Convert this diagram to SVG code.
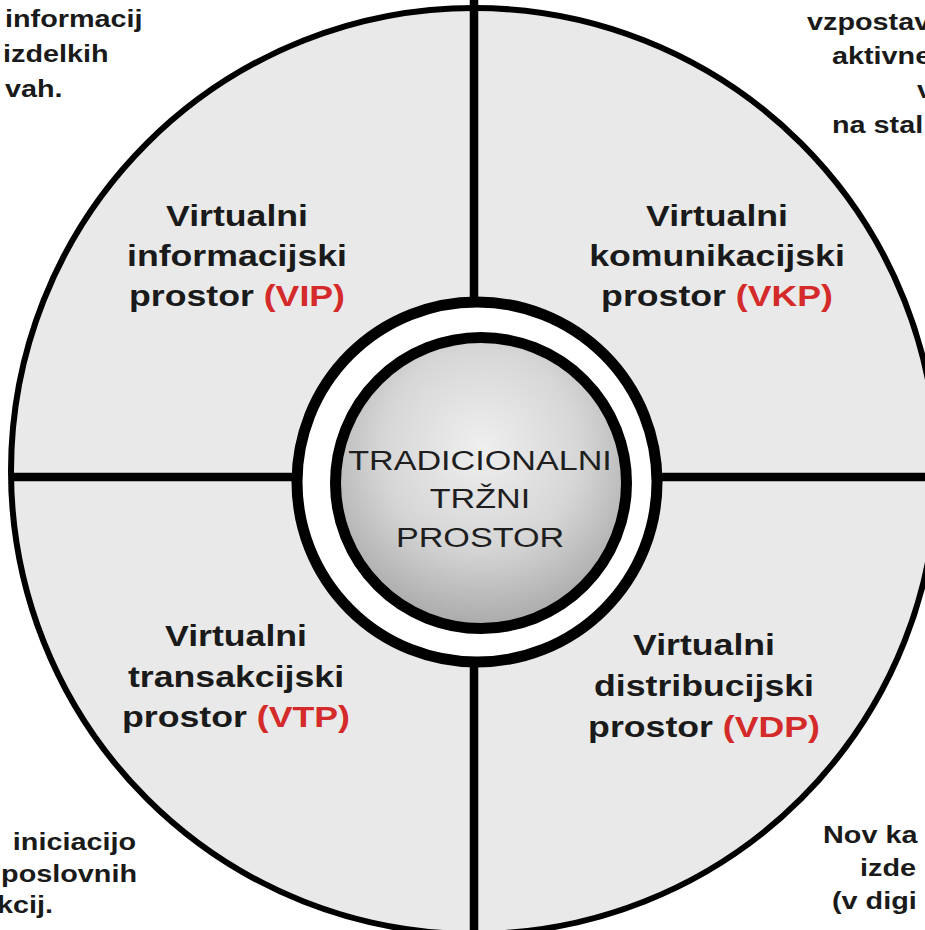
<svg xmlns="http://www.w3.org/2000/svg" width="925" height="930" viewBox="0 0 925 930">
<style>
.lbl{font-family:"Liberation Sans",Arial,sans-serif;font-weight:bold;font-size:29px;fill:#1a1a1a;text-anchor:middle}
.red{fill:#d42a2a}
.ctr{font-family:"Liberation Sans",Arial,sans-serif;font-size:28px;fill:#1e1e1e;text-anchor:middle}
.side{font-family:"Liberation Sans",Arial,sans-serif;font-weight:bold;font-size:24px;fill:#1a1a1a}
.ln{stroke:#000;stroke-width:8.5;fill:none}
</style>
<defs>
<radialGradient id="g" cx="50%" cy="38%" r="62%">
<stop offset="0" stop-color="#efefef"/>
<stop offset="0.55" stop-color="#d6d6d6"/>
<stop offset="1" stop-color="#a9a9a9"/>
</radialGradient>
</defs>
<rect width="925" height="930" fill="#fff"/>
<g id="outer">
<circle cx="474" cy="471" r="463" fill="#e9e9e9" stroke="#000" stroke-width="6"/>
</g>
<g id="connectors">
<line class="ln" x1="474" y1="0" x2="474" y2="300"/>
<line class="ln" x1="474" y1="664" x2="474" y2="930"/>
<line class="ln" x1="11" y1="477" x2="295" y2="477"/>
<line class="ln" x1="658" y1="477" x2="925" y2="477"/>
</g>
<g id="ring">
<circle cx="477" cy="482" r="180" fill="#fff" stroke="#000" stroke-width="11"/>
</g>
<g id="center">
<circle cx="481" cy="483" r="145.5" fill="url(#g)" stroke="#000" stroke-width="11"/>
<text class="ctr" transform="translate(480,470) scale(1.22,1)">TRADICIONALNI</text>
<text class="ctr" transform="translate(480,508) scale(1.22,1)">TRŽNI</text>
<text class="ctr" transform="translate(480,547) scale(1.22,1)">PROSTOR</text>
</g>
<g id="vip">
<text class="lbl" transform="translate(237,226) scale(1.23,1)">Virtualni</text>
<text class="lbl" transform="translate(237,266) scale(1.23,1)">informacijski</text>
<text class="lbl" transform="translate(237,306) scale(1.23,1)">prostor <tspan class="red">(VIP)</tspan></text>
</g>
<g id="vkp">
<text class="lbl" transform="translate(717,226) scale(1.23,1)">Virtualni</text>
<text class="lbl" transform="translate(717,266) scale(1.23,1)">komunikacijski</text>
<text class="lbl" transform="translate(717,306) scale(1.23,1)">prostor <tspan class="red">(VKP)</tspan></text>
</g>
<g id="vtp">
<text class="lbl" transform="translate(236,646) scale(1.23,1)">Virtualni</text>
<text class="lbl" transform="translate(236,687) scale(1.23,1)">transakcijski</text>
<text class="lbl" transform="translate(236,727) scale(1.23,1)">prostor <tspan class="red">(VTP)</tspan></text>
</g>
<g id="vdp">
<text class="lbl" transform="translate(704,655) scale(1.23,1)">Virtualni</text>
<text class="lbl" transform="translate(704,696) scale(1.23,1)">distribucijski</text>
<text class="lbl" transform="translate(704,737) scale(1.23,1)">prostor <tspan class="red">(VDP)</tspan></text>
</g>
<g id="note-tl">
<text class="side" transform="translate(5,27) scale(1.2,1)">informacij</text>
<text class="side" transform="translate(3,62) scale(1.2,1)">izdelkih</text>
<text class="side" transform="translate(5,97) scale(1.2,1)">vah.</text>
</g>
<g id="note-tr">
<text class="side" transform="translate(807,30) scale(1.2,1)">vzpostav</text>
<text class="side" transform="translate(832,64) scale(1.2,1)">aktivne</text>
<text class="side" transform="translate(917,98) scale(1.2,1)">v</text>
<text class="side" transform="translate(832,133) scale(1.2,1)">na stal</text>
</g>
<g id="note-bl">
<text class="side" text-anchor="end" transform="translate(136,850) scale(1.2,1)">iniciacijo</text>
<text class="side" text-anchor="end" transform="translate(137,882) scale(1.2,1)">poslovnih</text>
<text class="side" text-anchor="end" transform="translate(53,913) scale(1.2,1)">kcij.</text>
</g>
<g id="note-br">
<text class="side" transform="translate(823,843) scale(1.2,1)">Nov ka</text>
<text class="side" transform="translate(860,876) scale(1.2,1)">izde</text>
<text class="side" transform="translate(832,909) scale(1.2,1)">(v digi</text>
</g>
</svg>
